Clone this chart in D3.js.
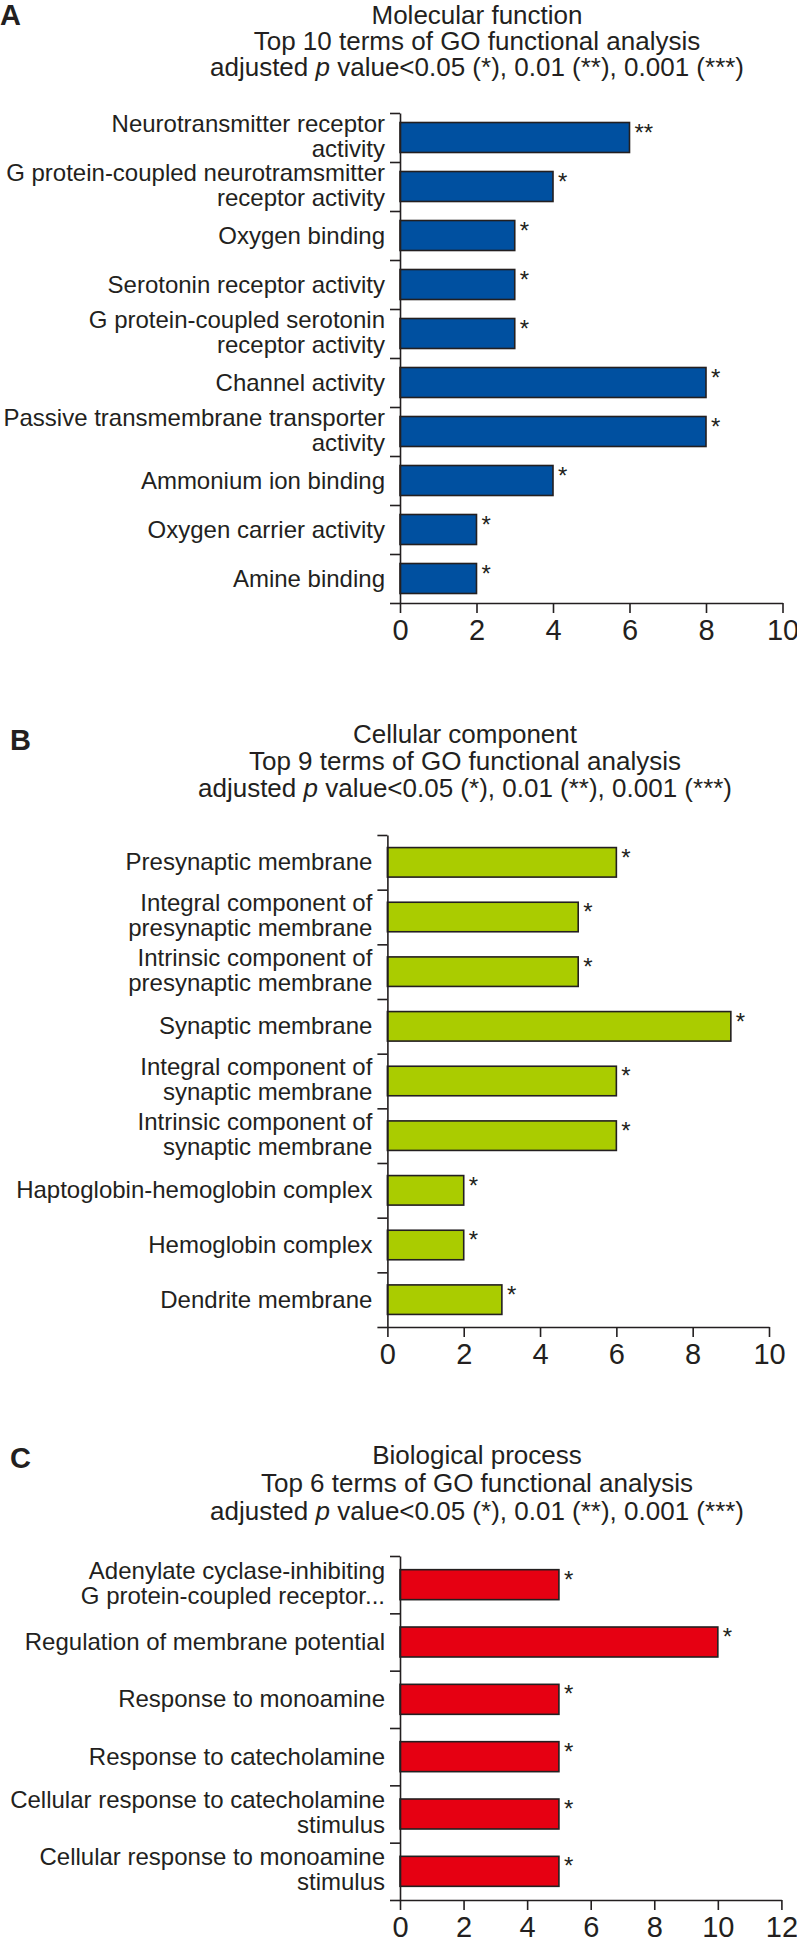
<!DOCTYPE html>
<html><head><meta charset="utf-8">
<script src="https://cdn.jsdelivr.net/npm/d3@7"></script>
<style>
html,body{margin:0;padding:0;background:#fff;}
svg{display:block;}
text{font-family:"Liberation Sans", Arial, Helvetica, sans-serif; fill:#231f20;}
</style></head><body>
<svg id="chart" width="797" height="1937"></svg>
<script>
// ---- Data ----
const mfCategories = [
  "Neurotransmitter receptor\nactivity",
  "G protein-coupled neurotramsmitter\nreceptor activity",
  "Oxygen binding",
  "Serotonin receptor activity",
  "G protein-coupled serotonin\nreceptor activity",
  "Channel activity",
  "Passive transmembrane transporter\nactivity",
  "Ammonium ion binding",
  "Oxygen carrier activity",
  "Amine binding"
];
const mfValues = [6, 4, 3, 3, 3, 8, 8, 4, 2, 2];
const mfStars  = ["**", "*", "*", "*", "*", "*", "*", "*", "*", "*"];
const mfTicks  = [0, 2, 4, 6, 8, 10];

const ccCategories = [
  "Presynaptic membrane",
  "Integral component of\npresynaptic membrane",
  "Intrinsic component of\npresynaptic membrane",
  "Synaptic membrane",
  "Integral component of\nsynaptic membrane",
  "Intrinsic component of\nsynaptic membrane",
  "Haptoglobin-hemoglobin complex",
  "Hemoglobin complex",
  "Dendrite membrane"
];
const ccValues = [6, 5, 5, 9, 6, 6, 2, 2, 3];
const ccStars  = ["*", "*", "*", "*", "*", "*", "*", "*", "*"];
const ccTicks  = [0, 2, 4, 6, 8, 10];

const bpCategories = [
  "Adenylate cyclase-inhibiting\nG protein-coupled receptor...",
  "Regulation of membrane potential",
  "Response to monoamine",
  "Response to catecholamine",
  "Cellular response to catecholamine\nstimulus",
  "Cellular response to monoamine\nstimulus"
];
const bpValues = [5, 10, 5, 5, 5, 5];
const bpStars  = ["*", "*", "*", "*", "*", "*"];
const bpTicks  = [0, 2, 4, 6, 8, 10, 12];

const panelTitles = ["Molecular function", "Cellular component", "Biological process"];
const panelSubtitles = [
  "Top 10 terms of GO functional analysis",
  "Top 9 terms of GO functional analysis",
  "Top 6 terms of GO functional analysis"
];

// ---- Drawing ----
const ink = "#231f20";
const svg = d3.select("#chart");
svg.append("rect").attr("width", 797).attr("height", 1937).attr("fill", "#fff");

function panel(o) {
  const g = svg.append("g");
  const x = d3.scaleLinear().domain([0, o.xMax]).range(o.xRange);
  const y = d3.scaleBand().domain(o.cats).range(o.yRange)
    .paddingInner(o.pad).paddingOuter(o.pad / 2);
  const idx = d3.scaleLinear().domain([0, o.cats.length]).range(o.yRange);

  g.append("text").attr("x", o.letterPos[0]).attr("y", o.letterPos[1])
    .attr("font-weight", "bold").attr("font-size", 29).text(o.letter);

  const t = g.append("g").attr("text-anchor", "middle").attr("font-size", 26);
  t.append("text").attr("x", o.titleX).attr("y", o.titleY[0]).text(o.title);
  t.append("text").attr("x", o.titleX).attr("y", o.titleY[1]).text(o.subtitle);
  const t3 = t.append("text").attr("x", o.titleX).attr("y", o.titleY[2]);
  t3.append("tspan").text("adjusted ");
  t3.append("tspan").attr("font-style", "italic").text("p");
  t3.append("tspan").text(" value<0.05 (*), 0.01 (**), 0.001 (***)");

  g.append("g").selectAll("rect").data(o.cats).join("rect")
    .attr("x", x(0)).attr("y", d => y(d))
    .attr("width", (d, i) => x(o.vals[i]) - x(0))
    .attr("height", y.bandwidth())
    .attr("fill", o.color).attr("stroke", ink).attr("stroke-width", 1.6);

  const ya = g.append("g").attr("transform", `translate(${x(0)},0)`)
    .call(d3.axisLeft(idx).tickValues(d3.range(o.cats.length + 1))
      .tickFormat("").tickSize(10).tickSizeOuter(0));
  const xa = g.append("g").attr("transform", `translate(0,${o.yRange[1]})`)
    .call(d3.axisBottom(x).tickValues(o.ticks).tickSize(10)
      .tickSizeOuter(0).tickPadding(6));
  [ya, xa].forEach(a => {
    a.selectAll("path,line").attr("stroke", ink).attr("stroke-width", 1.6);
    a.selectAll("text").attr("font-size", 29).attr("font-family", null).attr("fill", ink);
  });

  const lab = g.append("g").attr("text-anchor", "end").attr("font-size", 24);
  o.cats.forEach((d, i) => {
    const c = y(d) + y.bandwidth() / 2;
    const lines = d.split("\n");
    const tx = lab.append("text");
    lines.forEach((ln, j) => {
      const yy = lines.length === 1 ? c + 8 : (j === 0 ? c - 6 : c + 19);
      tx.append("tspan").attr("x", x(0) - 15).attr("y", yy).text(ln);
    });
  });

  g.append("g").attr("font-size", 24).selectAll("text").data(o.cats).join("text")
    .attr("x", (d, i) => x(o.vals[i]) + 5)
    .attr("y", d => y(d) + 18)
    .text((d, i) => o.stars[i]);
}

panel({
  letter: "A", letterPos: [0, 25],
  title: panelTitles[0], subtitle: panelSubtitles[0], titleX: 477, titleY: [24, 50, 76],
  cats: mfCategories, vals: mfValues, stars: mfStars, ticks: mfTicks, xMax: 10,
  xRange: [400, 782.5], yRange: [113, 603], pad: 0.388, color: "#0050a0"
});
panel({
  letter: "B", letterPos: [10, 750],
  title: panelTitles[1], subtitle: panelSubtitles[1], titleX: 465, titleY: [743, 770, 797],
  cats: ccCategories, vals: ccValues, stars: ccStars, ticks: ccTicks, xMax: 10,
  xRange: [387.4, 769], yRange: [835, 1327], pad: 0.46, color: "#aacc00"
});
panel({
  letter: "C", letterPos: [10, 1468],
  title: panelTitles[2], subtitle: panelSubtitles[2], titleX: 477, titleY: [1464, 1492, 1520],
  cats: bpCategories, vals: bpValues, stars: bpStars, ticks: bpTicks, xMax: 12,
  xRange: [400, 781.4], yRange: [1556, 1900], pad: 0.477, color: "#e60012"
});
</script>
</body></html>
